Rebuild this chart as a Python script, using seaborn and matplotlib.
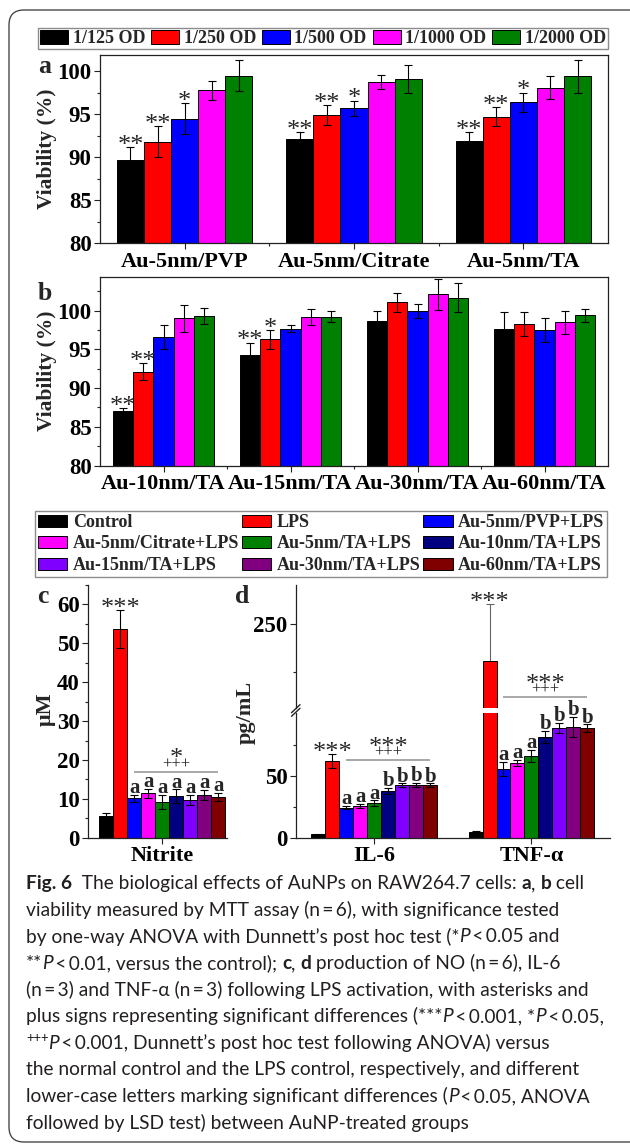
import matplotlib
matplotlib.use("Agg")
import matplotlib.pyplot as plt
import numpy as np
import pandas as pd
import seaborn as sns
from matplotlib.patches import FancyBboxPatch
from matplotlib.lines import Line2D
from matplotlib.container import BarContainer
from matplotlib.ticker import MultipleLocator, FixedLocator

# ---------------- data ----------------
dilutions = ["1/125 OD", "1/250 OD", "1/500 OD", "1/1000 OD", "1/2000 OD"]
dilution_colors = ["#000000", "#ff0000", "#0000ff", "#ff00ff", "#008000"]

groups_a = ["Au-5nm/PVP", "Au-5nm/Citrate", "Au-5nm/TA"]
viab_a = [[89.7, 91.8, 94.5, 97.8, 99.5],
          [92.1, 94.9, 95.7, 98.8, 99.1],
          [91.9, 94.7, 96.4, 98.1, 99.4]]
err_a = [[1.5, 1.8, 1.8, 1.1, 1.8],
         [0.85, 1.15, 0.9, 0.8, 1.6],
         [1.0, 1.1, 1.1, 1.3, 1.9]]
sig_a = [["**", "**", "*", "", ""],
         ["**", "**", "*", "", ""],
         ["**", "**", "*", "", ""]]

groups_b = ["Au-10nm/TA", "Au-15nm/TA", "Au-30nm/TA", "Au-60nm/TA"]
viab_b = [[87.0, 92.1, 96.6, 99.0, 99.3],
          [94.3, 96.3, 97.7, 99.2, 99.25],
          [98.65, 101.1, 100.0, 102.1, 101.7],
          [97.7, 98.3, 97.5, 98.5, 99.4]]
err_b = [[0.4, 1.1, 1.55, 1.8, 1.0],
         [1.55, 1.2, 0.5, 1.0, 0.7],
         [1.35, 1.2, 0.9, 2.0, 1.9],
         [2.1, 1.5, 1.5, 1.5, 0.85]]
sig_b = [["**", "**", "", "", ""],
         ["**", "*", "", "", ""],
         ["", "", "", "", ""],
         ["", "", "", "", ""]]

treatments = ["Control", "LPS", "Au-5nm/PVP+LPS", "Au-5nm/Citrate+LPS",
              "Au-5nm/TA+LPS", "Au-10nm/TA+LPS", "Au-15nm/TA+LPS",
              "Au-30nm/TA+LPS", "Au-60nm/TA+LPS"]
treatment_colors = ["#000000", "#ff0000", "#0000ff", "#ff00ff", "#008000",
                    "#000080", "#8000ff", "#800080", "#800000"]

nitrite = [5.6, 53.6, 10.1, 11.4, 9.2, 10.7, 9.7, 11.0, 10.45]
nitrite_err = [0.85, 4.9, 0.9, 1.2, 1.9, 1.7, 1.4, 1.3, 1.1]
nitrite_marks = ["", "***", "a", "a", "a", "a", "a", "a", "a"]

il6 = [2.7, 61.8, 24.2, 25.8, 28.0, 37.6, 42.2, 42.5, 42.5]
il6_err = [0.5, 5.4, 1.3, 1.6, 2.1, 2.4, 1.6, 1.6, 1.3]
il6_marks = ["", "***", "a", "a", "a", "b", "b", "b", "b"]

tnf = [4.8, 231.0, 55.6, 60.5, 65.9, 81.2, 88.7, 89.2, 88.4]
tnf_err = [0.8, 29.0, 5.7, 2.4, 4.8, 4.8, 4.0, 8.3, 3.0]
tnf_marks = ["", "***", "a", "a", "a", "b", "b", "b", "b"]

# group comparison brackets: (line level, "+++" baseline, star baseline, stars)
nitrite_bracket = (16.9, 17.8, 18.6, "*")
il6_bracket = (62.6, 65.4, 67.8, "***")
tnf_bracket = (212.45, 213.8, 215.4, "***")

# ---------------- style ----------------
sns.set_style("ticks")
SERIF = ["Liberation Serif", "DejaVu Serif"]
plt.rcParams.update({
    "font.family": SERIF,
    "font.weight": "bold",
    "axes.labelweight": "bold",
    "axes.linewidth": 0.9,
    "axes.edgecolor": "#222222",
    "xtick.color": "#222222",
    "ytick.color": "#222222",
    "xtick.labelcolor": "black",
    "ytick.labelcolor": "black",
    "xtick.major.size": 4, "ytick.major.size": 4,
    "xtick.minor.size": 2.5, "ytick.minor.size": 2.5,
    "xtick.major.width": 0.8, "ytick.major.width": 0.8,
    "xtick.minor.width": 0.8, "ytick.minor.width": 0.8,
    "xtick.major.pad": 2, "ytick.major.pad": 2,
    "xtick.labelsize": 16, "ytick.labelsize": 16.5,
})
STAR_SIZE = 19

W, H = 630, 1144
fig = plt.figure(figsize=(W / 100, H / 100), dpi=100)


def add_ax(l, t, r, b):
    return fig.add_axes([l / W, 1 - b / H, (r - l) / W, (b - t) / H])


def fxy(x, y):
    return x / W, 1 - y / H


def long_frame(cats, series, table):
    rows = []
    for ci, c in enumerate(cats):
        for si, s in enumerate(series):
            rows.append({"cat": c, "series": s, "value": table[ci][si]})
    return pd.DataFrame(rows)


def draw_bars(ax, df, cats, series, colors):
    sns.barplot(data=df, x="cat", y="value", hue="series", order=cats,
                hue_order=series, palette=colors, errorbar=None, width=0.8,
                gap=0, edgecolor="black", linewidth=0.7, saturation=1,
                legend=False, ax=ax)
    ax.set_xlabel("")
    ax.set_ylabel("")


def bar_sets(ax):
    return [c for c in ax.containers if isinstance(c, BarContainer)]


def bar_geom(ax, ci, si):
    p = bar_sets(ax)[si].patches[ci]
    return p.get_x() + p.get_width() / 2, p.get_height()


def add_errors(ax, errs, color="black", zorder=3, lw=0.8):
    for si, cont in enumerate(bar_sets(ax)):
        for ci, p in enumerate(cont.patches):
            x, y = p.get_x() + p.get_width() / 2, p.get_height()
            ax.errorbar(x, y, yerr=errs[ci][si], fmt="none", ecolor=color,
                        elinewidth=lw, capsize=3, capthick=lw, zorder=zorder)


def add_marks(ax, errs, marks):
    for si, cont in enumerate(bar_sets(ax)):
        for ci, p in enumerate(cont.patches):
            m = marks[ci][si]
            if not m:
                continue
            x, y = p.get_x() + p.get_width() / 2, p.get_height()
            top = y + errs[ci][si]
            if "*" in m:
                ax.annotate(m, xy=(x, top), xytext=(0, -3.3),
                            textcoords="offset points", ha="center",
                            va="baseline", fontsize=STAR_SIZE, fontweight="normal",
                            annotation_clip=False, zorder=5)
            else:
                ax.annotate(m, xy=(x, top), xytext=(0, 1.2),
                            textcoords="offset points", ha="center",
                            va="baseline", fontsize=15, fontweight="bold",
                            annotation_clip=False, zorder=5)


def add_bracket(ax, ci, bracket):
    line_y, plus_y, star_y, stars = bracket
    x0, _ = bar_geom(ax, ci, 2)
    x1, _ = bar_geom(ax, ci, len(treatments) - 1)
    ax.plot([x0, x1], [line_y, line_y], color="#9a9a9a", lw=1.2,
            solid_capstyle="butt", clip_on=False)
    xm = (x0 + x1) / 2
    ax.text(xm, plus_y, "+++", ha="center", va="baseline", fontsize=12,
            fontweight="normal", clip_on=False)
    ax.text(xm, star_y, stars, ha="center", va="baseline", fontsize=STAR_SIZE,
            fontweight="normal", clip_on=False)


def bold_ticklabels(ax):
    for lab in ax.get_xticklabels() + ax.get_yticklabels():
        lab.set_fontweight("bold")


def style_viability(ax, ylim, cats):
    ax.set_ylim(*ylim)
    ax.set_xlim(-0.5, len(cats) - 0.5)
    ax.yaxis.set_major_locator(MultipleLocator(5))
    ax.yaxis.set_minor_locator(MultipleLocator(2.5))
    ax.set_xticks(range(len(cats)))
    ax.set_xticklabels(cats)
    ax.xaxis.set_minor_locator(FixedLocator(np.arange(0.5, len(cats) - 0.5, 1)))
    ax.tick_params(which="both", top=False, right=False)
    bold_ticklabels(ax)


# ---------------- panel a ----------------
ax_a = add_ax(100, 55, 608, 243.3)
draw_bars(ax_a, long_frame(groups_a, dilutions, viab_a), groups_a, dilutions, dilution_colors)
add_errors(ax_a, err_a)
add_marks(ax_a, err_a, sig_a)
style_viability(ax_a, (80, 101.9), groups_a)

# ---------------- panel b ----------------
ax_b = add_ax(100, 276.7, 608, 465.5)
draw_bars(ax_b, long_frame(groups_b, dilutions, viab_b), groups_b, dilutions, dilution_colors)
add_errors(ax_b, err_b)
add_marks(ax_b, err_b, sig_b)
style_viability(ax_b, (80, 104.4), groups_b)

for yc in (149, 371):
    fig.text(*fxy(47, yc), "Viability (%)", rotation=90, ha="center",
             va="center", fontsize=15.5, fontweight="bold")

leg1 = fig.legend(handles=[c.patches[0] for c in bar_sets(ax_a)], labels=dilutions,
                  loc="center", bbox_to_anchor=(38 / W, 1 - 50 / H, 570 / W, 23 / H),
                  mode="expand", ncols=5, borderaxespad=0, borderpad=0.12,
                  handlelength=1.55, handleheight=0.83, handletextpad=0.25,
                  columnspacing=0.2, fancybox=False, framealpha=1,
                  edgecolor="#8c8c8c",
                  prop={"family": SERIF, "weight": "bold", "size": 13})
leg1.get_frame().set_linewidth(1.0)

# ---------------- panel c ----------------
ax_c = add_ax(88.3, 585, 226.7, 837.7)
df_c = pd.DataFrame({"cat": "Nitrite", "series": treatments, "value": nitrite})
draw_bars(ax_c, df_c, ["Nitrite"], treatments, treatment_colors)
add_errors(ax_c, [nitrite_err])
add_marks(ax_c, [nitrite_err], [nitrite_marks])
add_bracket(ax_c, 0, nitrite_bracket)
ax_c.set_ylim(0, 65)
ax_c.set_xlim(-0.47, 0.41)
ax_c.yaxis.set_major_locator(MultipleLocator(10))
ax_c.yaxis.set_minor_locator(MultipleLocator(5))
sns.despine(ax=ax_c)
bold_ticklabels(ax_c)

# ---------------- panel d (broken axis) ----------------
d_cats = ["IL-6", "TNF-\u03b1"]
df_d = long_frame(d_cats, treatments, [il6, tnf])
d_err = [il6_err, tnf_err]

ax_dl = add_ax(295.7, 713.1, 610, 837.7)
ax_du = add_ax(295.7, 584.9, 610, 708.3)
for ax in (ax_dl, ax_du):
    draw_bars(ax, df_d, d_cats, treatments, treatment_colors)
    ax.set_xlim(-0.5, 1.5)
    ax.patch.set_visible(False)

add_errors(ax_dl, d_err)
add_errors(ax_du, d_err, color="#666666", zorder=0.5)
# lower segment carries every mark except the stars over the tall TNF LPS bar
lower_marks = [il6_marks, ["" if "*" in m else m for m in tnf_marks]]
upper_marks = [["" for _ in treatments], [m if "*" in m else "" for m in tnf_marks]]
add_marks(ax_dl, d_err, lower_marks)
add_marks(ax_du, d_err, upper_marks)
add_bracket(ax_dl, 0, il6_bracket)
add_bracket(ax_du, 1, tnf_bracket)

ax_dl.set_ylim(0, 100.5)
ax_dl.yaxis.set_major_locator(FixedLocator([0, 50]))
ax_dl.yaxis.set_minor_locator(FixedLocator([25, 75]))
sns.despine(ax=ax_dl)
ax_du.set_ylim(206.5, 270)
ax_du.yaxis.set_major_locator(FixedLocator([250]))
ax_du.yaxis.set_minor_locator(FixedLocator([225]))
sns.despine(ax=ax_du, bottom=True)
ax_du.tick_params(axis="x", bottom=False, labelbottom=False)
for ax in (ax_dl, ax_du):
    bold_ticklabels(ax)
# keep the lower segment's letters above the upper segment
ax_dl.set_zorder(2)
ax_du.set_zorder(1)

# break marks on the y axis
for dy in (-1.8, 1.8):
    fig.add_artist(Line2D([291.5 / W, 300 / W], [1 - (714.5 + dy) / H, 1 - (706.5 + dy) / H],
                          color="#222222", lw=1.0))

leg2_order = [0, 3, 6, 1, 4, 7, 2, 5, 8]
c_sets = bar_sets(ax_c)
leg2 = fig.legend(handles=[c_sets[i].patches[0] for i in leg2_order],
                  labels=[treatments[i] for i in leg2_order],
                  loc="center", bbox_to_anchor=(35 / W, 1 - 580 / H, 572 / W, 72 / H),
                  mode="expand", ncols=3, borderaxespad=0, borderpad=0.15,
                  labelspacing=0.25, handlelength=1.65, handleheight=0.67,
                  handletextpad=0.3, columnspacing=0.2, fancybox=False,
                  framealpha=1, edgecolor="#8c8c8c",
                  prop={"family": SERIF, "weight": "bold", "size": 13})
leg2.get_frame().set_linewidth(1.0)

# panel letters and axis titles
for txt, x, y in (("a", 44.5, 73.3), ("b", 45, 300), ("c", 43, 603.3), ("d", 242, 603.3)):
    fig.text(*fxy(x, y), txt, ha="center", va="baseline", fontsize=18.5, fontweight="bold")
fig.text(*fxy(45.5, 709), "\u03bcM", rotation=90, ha="center", va="center",
         fontsize=16, fontweight="bold")
fig.text(*fxy(246, 712), "pg/mL", rotation=90, ha="center", va="center",
         fontsize=16, fontweight="bold")

# ---------------- caption ----------------
CAP = ["Lato", "DejaVu Sans"]
TS = "\u2009"
cap_lines = [
    [("Fig. 6", "b"), ("  The biological effects of AuNPs on RAW264.7 cells: ", ""),
     ("a", "b"), (", ", ""), ("b", "b"), (" cell", "")],
    [(f"viability measured by MTT assay (n{TS}={TS}6), with significance tested", "")],
    [("by one-way ANOVA with Dunnett\u2019s post hoc test (*", ""), ("P", "i"),
     (f"{TS}<{TS}0.05 and", "")],
    [("**", ""), ("P", "i"), (f"{TS}<{TS}0.01, versus the control); ", ""), ("c", "b"),
     (", ", ""), ("d", "b"), (f" production of NO (n{TS}={TS}6), IL-6", "")],
    [(f"(n{TS}={TS}3) and TNF-\u03b1 (n{TS}={TS}3) following LPS activation, with asterisks and", "")],
    [("plus signs representing significant differences (***", ""), ("P", "i"),
     (f"{TS}<{TS}0.001, *", ""), ("P", "i"), (f"{TS}<{TS}0.05,", "")],
    [("+++", "s"), ("P", "i"),
     (f"{TS}<{TS}0.001, Dunnett\u2019s post hoc test following ANOVA) versus", "")],
    [("the normal control and the LPS control, respectively, and different", "")],
    [("lower-case letters marking significant differences (", ""), ("P", "i"),
     (f"{TS}<{TS}0.05, ANOVA", "")],
    [("followed by LSD test) between AuNP-treated groups", "")],
]

renderer = fig.canvas.get_renderer()


def text_kw(style, size):
    kw = {"family": CAP, "fontsize": size, "fontweight": "normal",
          "fontstyle": "normal", "color": "#231f20"}
    if "b" in style:
        kw["fontweight"] = "bold"
    if "i" in style:
        kw["fontstyle"] = "italic"
    if "s" in style:
        kw["fontsize"] = size * 0.68
    return kw


def seg_width(txt, kw):
    probe = fig.text(0, 0, txt + "|", **kw)
    w1 = probe.get_window_extent(renderer).width
    probe.set_text("|")
    w2 = probe.get_window_extent(renderer).width
    probe.remove()
    return w1 - w2


ref = cap_lines[7][0][0]
base = seg_width(ref, text_kw("", 10))
cap_size = 10 * 556 / base

for k, segs in enumerate(cap_lines):
    x = 26.0
    y = 889.3 + 26.6 * k
    for txt, style in segs:
        kw = text_kw(style, cap_size)
        dy = -cap_size * 0.5 if "s" in style else 0
        fig.text(*fxy(x, y + dy), txt, ha="left", va="baseline", **kw)
        x += seg_width(txt, kw)

# rounded outer frame
frame = FancyBboxPatch((0.09, 0.02), 6.6, 11.32,
                       boxstyle="round,pad=0,rounding_size=0.15",
                       transform=fig.dpi_scale_trans, fill=False,
                       edgecolor="#4a4a4a", linewidth=1.0, clip_on=False)
fig.add_artist(frame)

fig.savefig("out.png", dpi=100)
